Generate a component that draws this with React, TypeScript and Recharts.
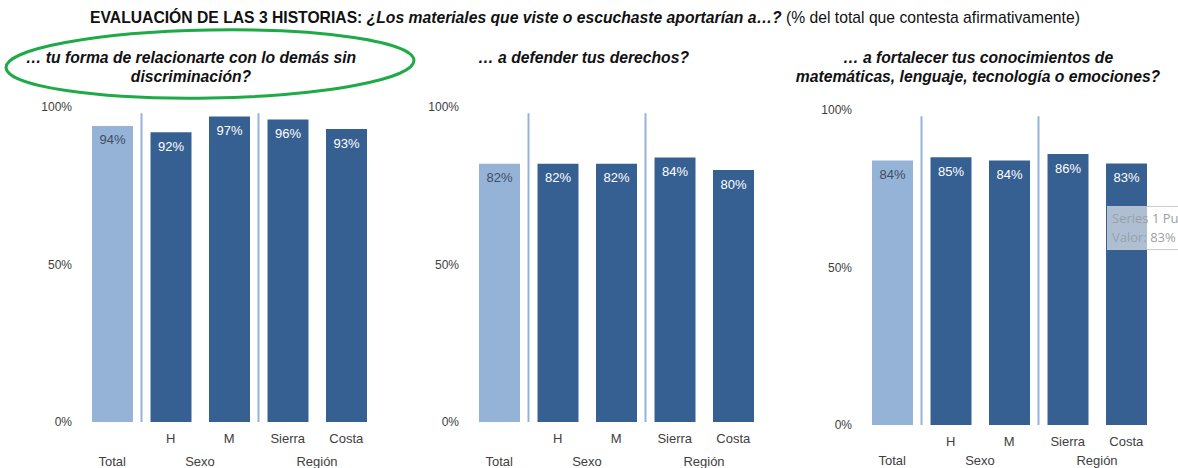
import { BarChart, Bar, XAxis, YAxis, Cell, LabelList, ReferenceLine } from "recharts";

const categories = ["Total", "H", "M", "Sierra", "Costa"];
const positions = [0, 1, 2, 3, 4];
const groupLabels = [
  { label: "Total", at: 0 },
  { label: "Sexo", at: 1.5 },
  { label: "Región", at: 3.5 },
];
const separators = [0.5, 2.5];
const yTicks = [0, 50, 100];

const relacionarte = [94, 92, 97, 96, 93];
const derechos = [82, 82, 82, 84, 80];
const conocimientos = [84, 85, 84, 86, 83];

const LIGHT = "#95B3D7";
const DARK = "#376092";
const FONT = "'Liberation Sans', Arial, sans-serif";

// one tick per category plus one per group label (deduplicated)
const xTicks = Array.from(new Set([...positions, ...groupLabels.map((g) => g.at)])).sort((a, b) => a - b);

function CategoryTick(props: any) {
  const { x, y, payload, row2 } = props;
  const v = payload.value;
  const group = groupLabels.find((g) => g.at === v);
  const items = [];
  if (Number.isInteger(v) && v !== 0) {
    items.push(
      <text key="c" x={x} y={y + 12.5} textAnchor="middle" fontSize={13} fill="#404040" fontFamily={FONT}>
        {categories[v]}
      </text>
    );
  }
  if (group) {
    items.push(
      <text key="g" x={x} y={y + row2} textAnchor="middle" fontSize={13} fill="#404040" fontFamily={FONT}>
        {group.label}
      </text>
    );
  }
  return <g>{items}</g>;
}

function ValueLabel(props: any) {
  const { x, y, width, value, index } = props;
  return (
    <text
      x={x + width / 2}
      y={y + 18.5}
      textAnchor="middle"
      fontSize={13}
      fontFamily={FONT}
      fill={index === 0 ? "#3E4E64" : "#FFFFFF"}
    >
      {value}%
    </text>
  );
}

function Panel({ values, left, top, xHeight, row2 }: { values: number[]; left: number; top: number; xHeight: number; row2: number }) {
  const data = positions.map((p, i) => ({ pos: p, cat: categories[i], value: values[i] }));
  return (
    <div style={{ position: "absolute", left, top }}>
      <BarChart
        width={372.5}
        height={10 + 315 + xHeight}
        data={data}
        margin={{ top: 10, right: 10, left: 0, bottom: 0 }}
      >
        <XAxis
          type="number"
          dataKey="pos"
          domain={[-0.5, 4.5]}
          ticks={xTicks}
          interval={0}
          axisLine={false}
          tickLine={false}
          height={xHeight}
          tick={<CategoryTick row2={row2} />}
        />
        <YAxis
          domain={[0, 100]}
          ticks={yTicks}
          width={70}
          axisLine={false}
          tickLine={false}
          tickMargin={5}
          tickFormatter={(v: number) => `${v}%`}
          tick={{ fontSize: 12, fill: "#404040", fontFamily: FONT }}
        />
        {separators.map((s) => (
          <ReferenceLine
            key={s}
            segment={[
              { x: s, y: 0 },
              { x: s, y: 98 },
            ]}
            stroke={LIGHT}
            strokeWidth={2}
          />
        ))}
        <Bar dataKey="value" barSize={41} isAnimationActive={false}>
          {data.map((d, i) => (
            <Cell key={d.cat} fill={i === 0 ? LIGHT : DARK} />
          ))}
          <LabelList dataKey="value" content={<ValueLabel />} />
        </Bar>
      </BarChart>
    </div>
  );
}

const subStyle: any = {
  position: "absolute",
  fontFamily: FONT,
  fontSize: 15.7,
  fontWeight: "bold",
  fontStyle: "italic",
  color: "#111",
  lineHeight: "19px",
  whiteSpace: "nowrap",
};

export default function App() {
  return (
    <div
      style={{
        position: "absolute",
        left: 0,
        top: 0,
        width: 1178,
        height: 468,
        overflow: "hidden",
        background: "#fff",
        fontFamily: FONT,
      }}
    >
      <div
        style={{
          position: "absolute",
          left: 0,
          width: 1170,
          top: 9,
          textAlign: "center",
          fontSize: 15.7,
          color: "#111",
          whiteSpace: "nowrap",
        }}
      >
        <b>EVALUACIÓN DE LAS 3 HISTORIAS: </b>
        <b>
          <i>¿Los materiales que viste o escuchaste aportarían a…?</i>
        </b>{" "}
        (% del total que contesta afirmativamente)
      </div>

      <svg style={{ position: "absolute", left: 0, top: 0 }} width={440} height={110}>
        <ellipse
          cx={210}
          cy={64}
          rx={204}
          ry={34}
          fill="none"
          stroke="#1FAA48"
          strokeWidth={3}
          transform="rotate(-1 210 64)"
        />
      </svg>

      <div style={{ ...subStyle, left: 2, width: 378, top: 48, textAlign: "center" }}>
        … tu forma de relacionarte con lo demás sin
        <br />
        discriminación?
      </div>
      <div style={{ ...subStyle, left: 478, top: 48 }}>… a defender tus derechos?</div>
      <div style={{ ...subStyle, left: 778, width: 400, top: 48, textAlign: "center" }}>
        … a fortalecer tus conocimientos de
        <br />
        matemáticas, lenguaje, tecnología o emociones?
      </div>

      <Panel values={relacionarte} left={13.25} top={97} xHeight={46} row2={35.5} />
      <Panel values={derechos} left={400.25} top={97} xHeight={46} row2={35.5} />
      <Panel values={conocimientos} left={793.25} top={100} xHeight={43} row2={32} />

      <div
        style={{
          position: "absolute",
          left: 1107,
          top: 206,
          width: 120,
          height: 44,
          background: "rgba(255,255,255,0.6)",
          border: "1px solid rgba(190,190,190,0.8)",
          color: "#9A9FA6",
          fontFamily: "'Open Sans', sans-serif",
          fontSize: 13,
          lineHeight: "19px",
          padding: "2px 4px",
          whiteSpace: "nowrap",
          boxSizing: "border-box",
        }}
      >
        Series 1 Punto "Costa"
        <br />
        Valor: 83%
      </div>
    </div>
  );
}
